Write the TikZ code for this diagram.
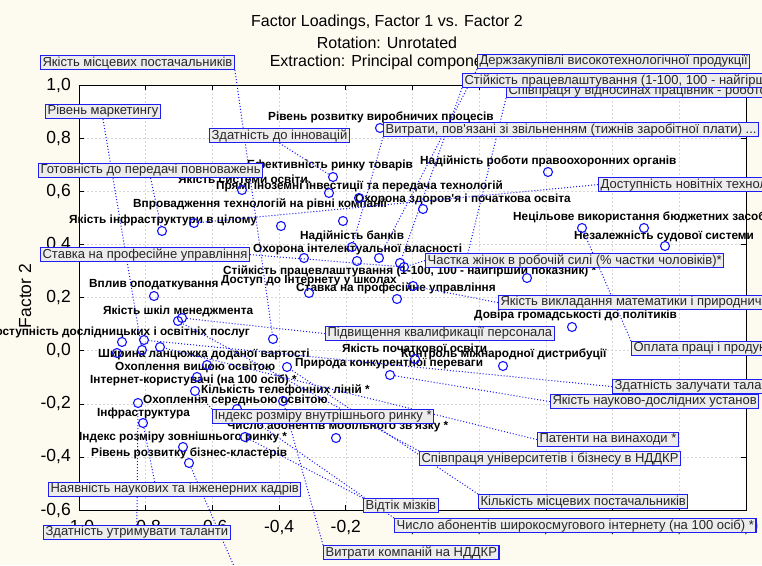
\documentclass[tikz,border=0pt]{standalone}
\usepackage{fontspec}
\setmainfont{Liberation Sans}
\definecolor{bgcream}{RGB}{253,250,240}
\definecolor{ptblue}{RGB}{20,20,250}
\definecolor{boxblue}{RGB}{30,30,240}
\definecolor{boxfill}{RGB}{236,236,236}
\definecolor{gridgray}{RGB}{215,215,215}
\newcommand{\ap}{\textquotesingle}
\pgfdeclarelayer{bglayer}
\pgfdeclarelayer{midlayer}
\pgfsetlayers{bglayer,midlayer,main}
\begin{document}
\begin{tikzpicture}[x=1pt,y=-1pt,
  pt/.style={circle,draw=ptblue,line width=1.1pt,minimum size=9pt,inner sep=0pt},
  lab/.style={anchor=west,inner sep=0pt,font=\fontsize{11.8}{11.8}\selectfont\bfseries,text=black},
  labr/.style={lab,anchor=east},
  boxlab/.style={anchor=north west,draw=boxblue,line width=1.2pt,fill=boxfill,inner xsep=2pt,inner ysep=0pt,minimum height=14pt,font=\fontsize{13}{13}\selectfont,text=black!85},
  leader/.style={draw=ptblue,line width=1pt,dash pattern=on 1pt off 2pt},
  gridline/.style={draw=gridgray,line width=0.5pt,dash pattern=on 2pt off 2pt},
  ticklab/.style={font=\fontsize{17.5}{17.5}\selectfont,inner sep=0pt}
]
\useasboundingbox (0,0) rectangle (762,565);
\begin{pgfonlayer}{bglayer}
\fill[bgcream] (0,0) rectangle (762,565);
\fill[white] (79,85) rectangle (746,510);
\foreach \gx in {145.7,212.4,279.1,345.8,412.5,479.2,545.9,612.6,679.3}
  \draw[gridline] (\gx,85) -- (\gx,510);
\foreach \gy in {138,191.5,244.5,297.5,350.5,404,457}
  \draw[gridline] (79,\gy) -- (746,\gy);
\draw[line width=1pt] (79,85) rectangle (746,510);
\foreach \gy in {85,138,191.5,244.5,297.5,350.5,404,457,510}{
  \draw[line width=0.8pt] (79,\gy) -- (84,\gy);
  \draw[line width=0.8pt] (746,\gy) -- (741,\gy);}
\foreach \gx in {79,145.7,212.4,279.1,345.8,412.5,479.2,545.9,612.6,679.3,746}{
  \draw[line width=0.8pt] (\gx,510) -- (\gx,505);
  \draw[line width=0.8pt] (\gx,85) -- (\gx,90);}
\node[ticklab,anchor=east] (y10) at (71,86) {1,0};
\node[ticklab,anchor=east] (y08) at (71,139) {0,8};
\node[ticklab,anchor=east] (y06) at (71,192) {0,6};
\node[ticklab,anchor=east] (y04) at (71,245) {0,4};
\node[ticklab,anchor=east] (y02) at (71,298) {0,2};
\node[ticklab,anchor=east] (y00) at (71,351) {0,0};
\node[ticklab,anchor=east] (ym02) at (71,404) {-0,2};
\node[ticklab,anchor=east] (ym04) at (71,457) {-0,4};
\node[ticklab,anchor=east] (ym06) at (71,510) {-0,6};
\node[ticklab] (xm10) at (79,527) {-1,0};
\node[ticklab] (xm08) at (145.7,527) {-0,8};
\node[ticklab] (xm06) at (212.4,527) {-0,6};
\node[ticklab] (xm04) at (279.1,527) {-0,4};
\node[ticklab] (xm02) at (345.8,527) {-0,2};
\node[ticklab] (x00) at (412.5,527) {0,0};
\node[ticklab] (x02) at (479.2,527) {0,2};
\node[ticklab] (x04) at (545.9,527) {0,4};
\node[ticklab] (x06) at (612.6,527) {0,6};
\node[ticklab] (x08) at (679.3,527) {0,8};
\node[ticklab] (x10) at (746,527) {1,0};
\node[ticklab,rotate=90] (yt) at (25,296) {Factor 2};
\node[font=\fontsize{16}{16}\selectfont,inner sep=0pt] (t1) at (387,22) {Factor Loadings, Factor 1 vs. Factor 2};
\node[font=\fontsize{16}{16}\selectfont,inner sep=0pt] (t2) at (387,43) {Rotation: Unrotated};
\node[font=\fontsize{16}{16}\selectfont,inner sep=0pt] (t3) at (387,62) {Extraction: Principal components};
\end{pgfonlayer}
\begin{pgfonlayer}{midlayer}
\node[lab] (la) at (268,117) {Рівень розвитку виробничих процесів};
\node[labr] (lb) at (413,165) {Ефективність ринку товарів};
\node[lab] (lc) at (178,179) {Якість системи освіти.};
\node[lab] (ld) at (216,186) {Прямі іноземні інвестиції та передача технологій};
\node[lab] (le) at (355,199) {Охорона здоров\ap я і початкова освіта};
\node[lab] (lf) at (133,204) {Впровадження технологій на рівні компанії};
\node[lab] (lg) at (69,220) {Якість інфраструктури в цілому};
\node[lab] (lh) at (420,161) {Надійність роботи правоохоронних органів};
\node[lab] (li) at (513,217) {Нецільове використання бюджетних засобів};
\node[lab] (lj) at (574,236) {Незалежність судової системи};
\node[lab] (lk) at (300,236) {Надійність банків};
\node[lab] (ll) at (253,249) {Охорона інтелектуальної власності};
\node[lab] (lm) at (223,271) {Стійкість працевлаштування (1-100, 100 - найгірший показник) *};
\node[lab] (ln) at (221,281) {Доступ до Інтернету у школах};
\node[lab] (lo) at (296,288) {Ставка на професійне управління};
\node[lab] (lp) at (89,285) {Вплив оподаткування};
\node[lab] (lq) at (103,311) {Якість шкіл менеджмента};
\node[labr] (lr) at (250,332) {Доступність дослідницьких і освітніх послуг};
\node[lab] (ls) at (98,354) {Ширина ланцюжка доданої вартості};
\node[lab] (lt) at (115,367) {Охоплення вищою освітою};
\node[lab] (lu) at (90,380) {Інтернет-користувачі (на 100 осіб) *};
\node[lab] (lv) at (201,390) {Кількість телефонних ліній *};
\node[lab] (lw) at (143,400) {Охоплення середньою освітою};
\node[lab] (lx) at (97,413) {Інфраструктура};
\node[lab] (ly) at (227,426) {Число абонентів мобільного зв\ap язку *};
\node[lab] (lz) at (79,437) {Індекс розміру зовнішнього ринку *};
\node[lab] (laa) at (91,453) {Рівень розвитку бізнес-кластерів};
\node[lab] (lbb) at (342,348) {Якість початкової освіти};
\node[lab] (lcc) at (401,354) {Контроль міжнародної дистрибуції};
\node[lab] (ldd) at (295,364) {Природа конкурентної переваги};
\node[lab] (lee) at (474,315) {Довіра громадськості до політиків};
\foreach \n/\px/\py in {p01/380/128,p02/333/177,p03/242/190,p04/329/193,p05/359/198,p06/423/209,p07/343/221,p08/281/226,p09/194/223,p10/162/231,p11/548/172,p12/582/228,p13/644/228,p14/665/246,p15/352/247,p16/304/258,p17/357/261,p18/379/258,p19/400/263,p20/404/267,p21/527/278,p22/413/286,p23/309/293,p24/397/299,p25/572/327,p26/154/296,p27/178/321,p28/182/318,p29/122/342,p30/144/340,p31/160/347,p32/117/353,p33/142/350,p34/273/339,p35/287/367,p36/207/365,p37/197/377,p38/195/391,p39/415/359,p40/503/366,p41/390/375,p42/138/403,p43/143/423,p44/237/409,p45/283/401,p46/245/437,p47/336/438,p48/183/447,p49/189/463,p50/466/261}
  \node[pt] (\n) at (\px,\py) {};
\coordinate (off1) at (240,580);
\end{pgfonlayer}
% boxes
\node[boxlab] (b01) at (40,55) {Якість місцевих постачальників};
\node[boxlab] (b02) at (45,104) {Рівень маркетингу};
\node[boxlab] (b03) at (209,128) {Здатність до інновацій};
\node[boxlab] (b04) at (38,163) {Готовність до передачі повноважень};
\node[boxlab] (b05) at (40,247) {Ставка на професійне управління};
\node[boxlab] (b06) at (48,482) {Наявність наукових та інженерних кадрів};
\node[boxlab] (b07) at (43,525) {Здатність утримувати таланти};
\node[boxlab] (b08) at (323,545) {Витрати компаній на НДДКР};
\node[boxlab] (b09) at (363,498) {Відтік мізків};
\node[boxlab] (b10) at (394,518) {Число абонентів широкосмугового інтернету (на 100 осіб) *};
\node[boxlab] (b11) at (478,494) {Кількість місцевих постачальників};
\node[boxlab] (b12) at (419,451) {Співпраця університетів і бізнесу в НДДКР};
\node[boxlab] (b13) at (537,432) {Патенти на винаходи *};
\node[boxlab] (b14) at (550,394) {Якість науково-дослідних установ};
\node[boxlab] (b15) at (612,379) {Здатність залучати таланти};
\node[boxlab] (b16) at (631,341) {Оплата праці і продуктивність};
\node[boxlab] (b17) at (498,295) {Якість викладання математики і природничих наук};
\node[boxlab] (b18) at (325,326) {Підвищення квалификації персонала};
\node[boxlab] (b19) at (425,253) {Частка жінок в робочій силі (\% частки чоловіків)*};
\node[boxlab] (b20) at (598,177) {Доступність новітніх технологій};
\node[boxlab] (b21) at (383,122) {Витрати, пов\ap язані зі звільненням (тижнів заробітної плати) ...};
\node[boxlab] (b22) at (506,83) {Співпраця у відносинах працівник - роботодавець};
\node[boxlab] (b23) at (462,73) {Стійкість працевлаштування (1-100, 100 - найгірший показник) *};
\node[boxlab] (b24) at (477,54) {Держзакупівлі високотехнологічної продукції};
\node[boxlab] (b25) at (212,409) {Індекс розміру внутрішнього ринку *};
\begin{pgfonlayer}{midlayer}
\draw[leader] (b01.south east) -- (p34);
\draw[leader] (b02.south) -- (p33);
\draw[leader] (b03.south) -- (p02);
\draw[leader] (b04.south) -- (p10);
\draw[leader] (b05.east) -- (p20);
\draw[leader] ([xshift=-20pt]b06.north) -- (p43);
\draw[leader] (b07.north) -- (p42);
\draw[leader] (b08.north west) -- (p45);
\draw[leader] (b09.north west) -- (p46);
\draw[leader] (b10.north west) -- (p44);
\draw[leader] (b11.north west) -- (p35);
\draw[leader] (b12.north west) -- (p27);
\draw[leader] (b13.west) -- (p31);
\draw[leader] (b14.west) -- (p41);
\draw[leader] (b15.west) -- (p30);
\draw[leader] (b16.north west) -- (p12);
\draw[leader] (b17.west) -- (p22);
\draw[leader] (b18.west) -- (p28);
\draw[leader] (b19.west) -- (p20);
\draw[leader] (b20.west) -- (p09);
\draw[leader] (b21.south west) -- (p15);
\draw[leader] (b22.south west) -- (p50);
\draw[leader] (b23.south west) -- (p19);
\draw[leader] (b24.south west) -- (p18);
\draw[leader] (b25.north west) -- (p38);
\draw[leader] (p49) -- (off1);
\end{pgfonlayer}
\end{tikzpicture}
\end{document}
